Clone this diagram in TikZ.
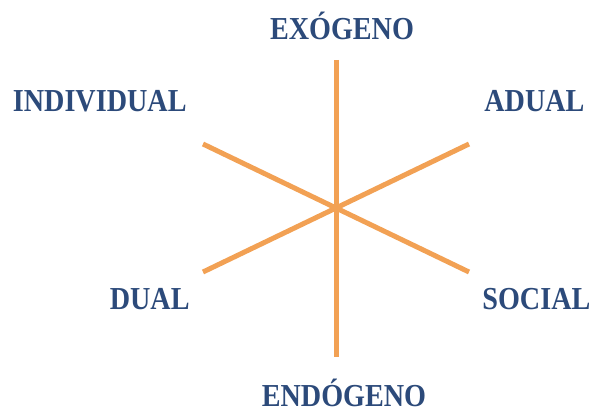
\documentclass[tikz,border=0pt]{standalone}
\usepackage{fontspec}
\usepackage{xcolor}
\usepackage{tikz}
\usetikzlibrary{positioning,calc}

\newfontfamily\axisfont[FakeStretch=0.88]{Liberation Serif}
\definecolor{axisblue}{HTML}{2C4A7A}
\definecolor{axisorange}{HTML}{F2A154}

\begin{document}
\begin{tikzpicture}[
  x=0.5pt, y=-0.5pt,
  lbl/.style={text=axisblue, inner sep=0pt, font=\axisfont\bfseries\fontsize{16}{16}\selectfont},
  axis/.style={draw=axisorange, line width=2.5pt}
]
\useasboundingbox (0,0) rectangle (589,411);

% Axis ends
\coordinate (top) at (336,60);
\coordinate (bot) at (336,357);
\coordinate (ul) at (203,144);
\coordinate (lr) at (469,272);
\coordinate (ll) at (203,272);
\coordinate (ur) at (469,144);

% Axes
\draw[axis] (top) -- (bot);
\draw[axis] (ul) -- (lr);
\draw[axis] (ll) -- (ur);

% Labels
\node[lbl, anchor=base] (exo) at (342,40) {EXÓGENO};
\node[lbl, anchor=base] (endo) at (344,406) {ENDÓGENO};
\node[lbl, anchor=base east] (indiv) at (187,112) {INDIVIDUAL};
\node[lbl, anchor=base west] (adual) at (484,112) {ADUAL};
\node[lbl, anchor=base east] (dual) at (190,309) {DUAL};
\node[lbl, anchor=base west] (social) at (482,309) {SOCIAL};

\end{tikzpicture}
\end{document}
